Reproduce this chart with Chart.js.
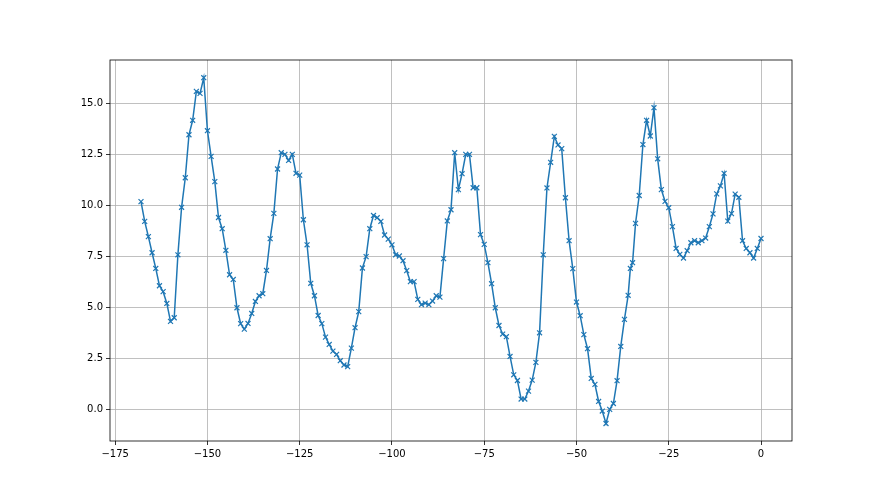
<!DOCTYPE html>
<html>
<head>
<meta charset="utf-8">
<script src="https://cdn.jsdelivr.net/npm/chart.js@4/dist/chart.umd.min.js"></script>
<style>
  body { margin: 0; background: #fff; }
  #chart { display: block; }
</style>
</head>
<body>
<canvas id="chart" width="880" height="495"></canvas>
<script>
// x positions (one extra sample squeezed in near -35)
const xValues = [
  -168, -167, -166, -165, -164, -163, -162, -161, -160, -159,
  -158, -157, -156, -155, -154, -153, -152, -151, -150, -149,
  -148, -147, -146, -145, -144, -143, -142, -141, -140, -139,
  -138, -137, -136, -135, -134, -133, -132, -131, -130, -129,
  -128, -127, -126, -125, -124, -123, -122, -121, -120, -119,
  -118, -117, -116, -115, -114, -113, -112, -111, -110, -109,
  -108, -107, -106, -105, -104, -103, -102, -101, -100, -99,
  -98, -97, -96, -95, -94, -93, -92, -91, -90, -89,
  -88, -87, -86, -85, -84, -83, -82, -81, -80, -79,
  -78, -77, -76, -75, -74, -73, -72, -71, -70, -69,
  -68, -67, -66, -65, -64, -63, -62, -61, -60, -59,
  -58, -57, -56, -55, -54, -53, -52, -51, -50, -49,
  -48, -47, -46, -45, -44, -43, -42, -41, -40, -39,
  -38, -37, -36, -35.4, -34.8,
  -34, -33, -32, -31, -30, -29,
  -28, -27, -26, -25, -24, -23, -22, -21, -20, -19,
  -18, -17, -16, -15, -14, -13, -12, -11, -10, -9,
  -8, -7, -6, -5, -4, -3, -2, -1, 0
];

const yValues = [
  10.2, 9.23, 8.48, 7.69, 6.92, 6.07, 5.78, 5.2, 4.32, 4.5,
  7.59, 9.92, 11.37, 13.48, 14.19, 15.61, 15.51, 16.28, 13.68, 12.42,
  11.18, 9.42, 8.87, 7.81, 6.61, 6.38, 4.99, 4.21, 3.94, 4.22,
  4.71, 5.3, 5.58, 5.68, 6.82, 8.38, 9.62, 11.8, 12.6, 12.52,
  12.22, 12.52, 11.59, 11.5, 9.31, 8.08, 6.19, 5.58, 4.61, 4.21,
  3.55, 3.19, 2.86, 2.7, 2.39, 2.18, 2.1, 3.01, 4.01, 4.8,
  6.94, 7.5, 8.87, 9.52, 9.41, 9.23, 8.56, 8.36, 8.08, 7.59,
  7.53, 7.3, 6.81, 6.27, 6.27, 5.4, 5.14, 5.22, 5.14, 5.32,
  5.58, 5.51, 7.4, 9.25, 9.8, 12.6, 10.79, 11.57, 12.52, 12.52,
  10.88, 10.88, 8.58, 8.1, 7.2, 6.17, 4.99, 4.12, 3.7, 3.57,
  2.6, 1.7, 1.42, 0.51, 0.51, 0.9, 1.44, 2.31, 3.76, 7.59,
  10.87, 12.13, 13.4, 12.98, 12.8, 10.39, 8.28, 6.91, 5.27, 4.6,
  3.67, 2.98, 1.52, 1.23, 0.39, -0.08, -0.69, 0.0, 0.29, 1.41,
  3.09, 4.42, 5.6, 6.92, 7.2,
  9.13, 10.5, 13.0, 14.19, 13.42, 14.81,
  12.3, 10.79, 10.21, 9.9, 8.97, 7.9, 7.61, 7.43, 7.79, 8.18,
  8.28, 8.18, 8.28, 8.41, 8.97, 9.6, 10.58, 10.97, 11.59, 9.24,
  9.61, 10.57, 10.41, 8.28, 7.9, 7.69, 7.43, 7.9, 8.39
];

const xTicks = [-175, -150, -125, -100, -75, -50, -25, 0];
const yTicks = [0, 2.5, 5, 7.5, 10, 12.5, 15];

const points = xValues.map((x, i) => ({ x: x, y: yValues[i] }));

// matplotlib style frame: all four spines
const spines = {
  id: "spines",
  afterDraw(chart) {
    const { ctx, chartArea } = chart;
    ctx.save();
    ctx.strokeStyle = "#000";
    ctx.lineWidth = 0.8;
    ctx.strokeRect(
      chartArea.left,
      chartArea.top,
      chartArea.right - chartArea.left,
      chartArea.bottom - chartArea.top
    );
    ctx.restore();
  }
};

const blue = "#1f77b4";
const tickFont = { family: "DejaVu Sans", size: 10 };

function minusSign(v) {
  return String(v).replace("-", "\u2212");
}

const config = {
  type: "line",
  data: {
    datasets: [
      {
        data: points,
        borderColor: blue,
        backgroundColor: blue,
        borderWidth: 1.5,
        tension: 0,
        pointStyle: "crossRot",
        pointRadius: 3.5,
        pointBorderWidth: 1.2,
        pointBorderColor: blue,
        pointHoverRadius: 3.5
      }
    ]
  },
  options: {
    responsive: false,
    animation: false,
    layout: {
      padding: { top: 60, right: 88, left: 0, bottom: 0 }
    },
    plugins: {
      legend: { display: false },
      tooltip: { enabled: false }
    },
    scales: {
      x: {
        type: "linear",
        min: -176.4,
        max: 8.4,
        afterBuildTicks: (scale) => {
          scale.ticks = xTicks.map((v) => ({ value: v }));
        },
        afterFit: (scale) => {
          scale.height = 54;
        },
        border: { display: false },
        grid: {
          color: "#b0b0b0",
          lineWidth: 0.8,
          tickColor: "#000",
          tickLength: 4
        },
        ticks: {
          color: "#000",
          font: tickFont,
          padding: 3,
          maxRotation: 0,
          autoSkip: false,
          callback: (v) => minusSign(v)
        }
      },
      y: {
        min: -1.55,
        max: 17.15,
        afterBuildTicks: (scale) => {
          scale.ticks = yTicks.map((v) => ({ value: v }));
        },
        afterFit: (scale) => {
          scale.width = 110;
        },
        border: { display: false },
        grid: {
          color: "#b0b0b0",
          lineWidth: 0.8,
          tickColor: "#000",
          tickLength: 4
        },
        ticks: {
          color: "#000",
          font: tickFont,
          padding: 3,
          autoSkip: false,
          callback: (v) => minusSign(v.toFixed(1))
        }
      }
    }
  },
  plugins: [spines]
};

const ctx = document.querySelector("#chart");
const lineChart = new Chart(ctx, config);
</script>
</body>
</html>
